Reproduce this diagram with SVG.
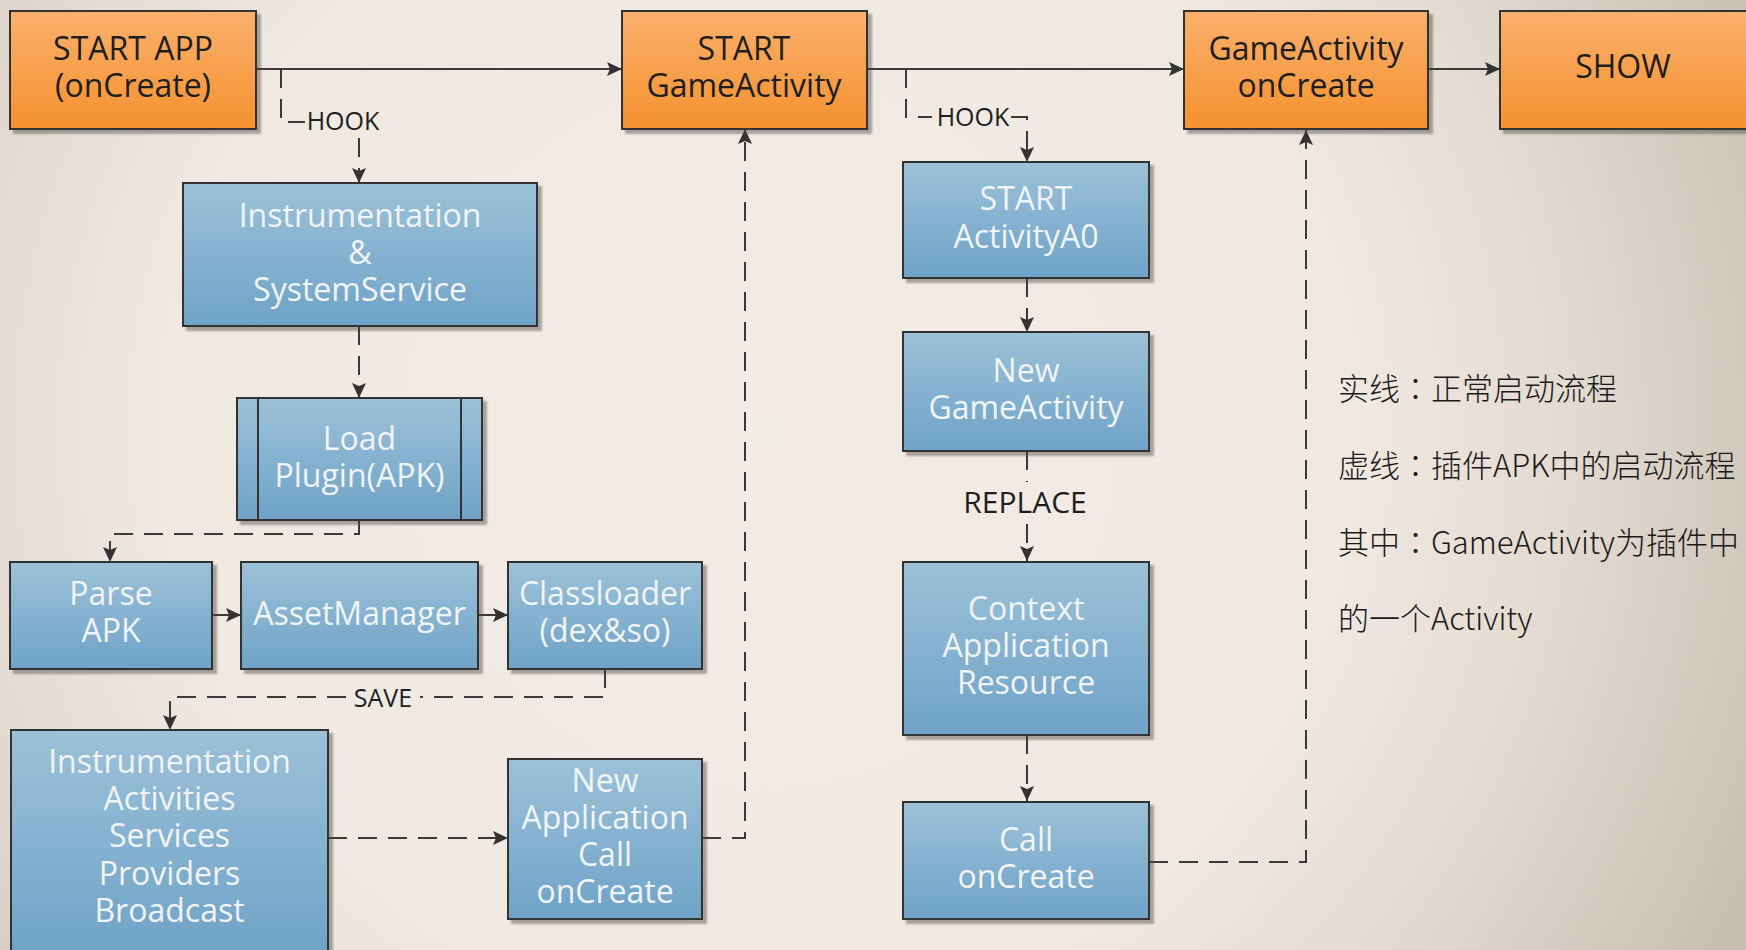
<svg xmlns="http://www.w3.org/2000/svg" width="1746" height="950" viewBox="0 0 1746 950">
  <defs>
    <radialGradient id="bg" gradientUnits="userSpaceOnUse" cx="760" cy="430" r="1080">
      <stop offset="0" stop-color="#f2ece6"/>
      <stop offset="0.55" stop-color="#f0e9e2"/>
      <stop offset="0.75" stop-color="#e3dad1"/>
      <stop offset="1" stop-color="#c8bfb5"/>
    </radialGradient>
    <linearGradient id="gOrange" x1="0" y1="0" x2="0" y2="1">
      <stop offset="0" stop-color="#fbb06c"/>
      <stop offset="1" stop-color="#f5912f"/>
    </linearGradient>
    <linearGradient id="gBlue" x1="0" y1="0" x2="0" y2="1">
      <stop offset="0" stop-color="#9cc1d8"/>
      <stop offset="1" stop-color="#6fa3c7"/>
    </linearGradient>
    <filter id="shadow" x="-5%" y="-5%" width="115%" height="120%">
      <feDropShadow dx="4" dy="4" stdDeviation="1.2" flood-color="#4a4440" flood-opacity="0.45"/>
    </filter>
    <marker id="arrow" markerUnits="userSpaceOnUse" markerWidth="16" markerHeight="14" refX="15" refY="7" orient="auto">
      <path d="M0,0 L15,7 L0,14 L3,7 z" fill="#333"/>
    </marker>
    <style>
      .box { stroke: #333; stroke-width: 2; }
      .o { fill: url(#gOrange); }
      .b { fill: url(#gBlue); }
      .sub { stroke: #333; stroke-width: 2; fill: none; }
      .ot { font-family: "Open Sans", "Noto Sans", sans-serif; font-size: 32px; fill: #1e1e1e; text-anchor: middle; }
      .bt { font-family: "Open Sans", "Noto Sans", sans-serif; font-size: 32px; fill: #f1f4f6; text-anchor: middle; }
      .lbl { font-family: "Open Sans", "Noto Sans", sans-serif; font-size: 25px; fill: #1e1e1e; text-anchor: middle; }
      .solid { stroke: #3a3a3a; stroke-width: 2; fill: none; }
      .dash { stroke: #3a3a3a; stroke-width: 2; fill: none; stroke-dasharray: 19 11; }
      .legend { font-family: "Noto Sans CJK SC", "Noto Sans", sans-serif; font-size: 31px; font-weight: 300; fill: #1a1a1a; }
      .colon { font-family: "Noto Sans CJK TC", "Noto Sans CJK SC", sans-serif; }
    </style>
  </defs>

  <!-- backdrop -->
  <rect x="0" y="0" width="1746" height="950" fill="url(#bg)"/>

  <!-- connectors -->
  <g id="connectors">
    <!-- normal launch flow (solid) -->
    <path class="solid" d="M256,69 H622" marker-end="url(#arrow)"/>
    <path class="solid" d="M867,69 H1184" marker-end="url(#arrow)"/>
    <path class="solid" d="M1428,69 H1500" marker-end="url(#arrow)"/>
    <path class="solid" d="M212,615 H241" marker-end="url(#arrow)"/>
    <path class="solid" d="M478,615 H508" marker-end="url(#arrow)"/>

    <!-- hook into instrumentation -->
    <path class="dash" d="M281,69 V122 H305"/>
    <text class="lbl" x="343" y="130">HOOK</text>
    <path class="dash" d="M359,138 V183" stroke-dasharray="2 10 19 11" marker-end="url(#arrow)"/>

    <path class="dash" d="M359,326 V398" marker-end="url(#arrow)"/>
    <path class="dash" d="M359,520 V534 H110 V562" marker-end="url(#arrow)"/>

    <!-- save -->
    <path class="dash" d="M605,669 V697 H420"/>
    <text class="lbl" x="383" y="707">SAVE</text>
    <path class="dash" d="M346,697 H170 V730" marker-end="url(#arrow)"/>

    <path class="dash" d="M328,838 H508" marker-end="url(#arrow)"/>
    <path class="dash" d="M702,838 H745 V129" marker-end="url(#arrow)"/>

    <!-- hook into activity start -->
    <path class="dash" d="M906,69 V117 H932"/>
    <text class="lbl" x="973" y="126">HOOK</text>
    <path class="dash" d="M1011,117 H1027 V162" stroke-dasharray="12 11 19 11" marker-end="url(#arrow)"/>

    <path class="dash" d="M1027,278 V332" marker-end="url(#arrow)"/>

    <!-- replace -->
    <path class="dash" d="M1027,451 V482"/>
    <text class="lbl" x="1025" y="513" style="font-size:30px">REPLACE</text>
    <path class="dash" d="M1027,524 V561" stroke-dasharray="6 8 40 0" marker-end="url(#arrow)"/>

    <path class="dash" d="M1027,735 V801" marker-end="url(#arrow)"/>
    <path class="dash" d="M1149,862 H1306 V130" marker-end="url(#arrow)"/>
  </g>

  <!-- top row: normal launch -->
  <g id="start-app">
    <rect class="box o" x="10" y="11" width="246" height="118" filter="url(#shadow)"/>
    <text class="ot" x="133" y="60">START APP</text>
    <text class="ot" x="133" y="97">(onCreate)</text>
  </g>
  <g id="start-game-activity">
    <rect class="box o" x="622" y="11" width="245" height="118" filter="url(#shadow)"/>
    <text class="ot" x="744" y="60">START</text>
    <text class="ot" x="744" y="97">GameActivity</text>
  </g>
  <g id="game-activity-oncreate">
    <rect class="box o" x="1184" y="11" width="244" height="118" filter="url(#shadow)"/>
    <text class="ot" x="1306" y="60">GameActivity</text>
    <text class="ot" x="1306" y="97">onCreate</text>
  </g>
  <g id="show">
    <rect class="box o" x="1500" y="11" width="250" height="118" filter="url(#shadow)"/>
    <text class="ot" x="1623" y="78">SHOW</text>
  </g>

  <!-- plugin loading -->
  <g id="instrumentation-systemservice">
    <rect class="box b" x="183" y="183" width="354" height="143" filter="url(#shadow)"/>
    <text class="bt" x="360" y="227">Instrumentation</text>
    <text class="bt" x="360" y="264">&amp;</text>
    <text class="bt" x="360" y="301">SystemService</text>
  </g>
  <g id="load-plugin">
    <rect class="box b" x="237" y="398" width="245" height="122" filter="url(#shadow)"/>
    <path class="sub" d="M258,398 V520 M461,398 V520"/>
    <text class="bt" x="359.5" y="450">Load</text>
    <text class="bt" x="359.5" y="487">Plugin(APK)</text>
  </g>
  <g id="parse-apk">
    <rect class="box b" x="10" y="562" width="202" height="107" filter="url(#shadow)"/>
    <text class="bt" x="111" y="605">Parse</text>
    <text class="bt" x="111" y="642">APK</text>
  </g>
  <g id="asset-manager">
    <rect class="box b" x="241" y="562" width="237" height="107" filter="url(#shadow)"/>
    <text class="bt" x="359.5" y="625">AssetManager</text>
  </g>
  <g id="classloader">
    <rect class="box b" x="508" y="562" width="194" height="107" filter="url(#shadow)"/>
    <text class="bt" x="605" y="605">Classloader</text>
    <text class="bt" x="605" y="642">(dex&amp;so)</text>
  </g>
  <g id="components">
    <rect class="box b" x="11" y="730" width="317" height="224" filter="url(#shadow)"/>
    <text class="bt" x="169.5" y="773">Instrumentation</text>
    <text class="bt" x="169.5" y="810">Activities</text>
    <text class="bt" x="169.5" y="847">Services</text>
    <text class="bt" x="169.5" y="885">Providers</text>
    <text class="bt" x="169.5" y="922">Broadcast</text>
  </g>
  <g id="new-application">
    <rect class="box b" x="508" y="759" width="194" height="160" filter="url(#shadow)"/>
    <text class="bt" x="605" y="792">New</text>
    <text class="bt" x="605" y="829">Application</text>
    <text class="bt" x="605" y="866">Call</text>
    <text class="bt" x="605" y="903">onCreate</text>
  </g>

  <!-- activity hooking -->
  <g id="start-activity-a0">
    <rect class="box b" x="903" y="162" width="246" height="116" filter="url(#shadow)"/>
    <text class="bt" x="1026" y="210">START</text>
    <text class="bt" x="1026" y="248">ActivityA0</text>
  </g>
  <g id="new-game-activity">
    <rect class="box b" x="903" y="332" width="246" height="119" filter="url(#shadow)"/>
    <text class="bt" x="1026" y="382">New</text>
    <text class="bt" x="1026" y="419">GameActivity</text>
  </g>
  <g id="context">
    <rect class="box b" x="903" y="562" width="246" height="173" filter="url(#shadow)"/>
    <text class="bt" x="1026" y="620">Context</text>
    <text class="bt" x="1026" y="657">Application</text>
    <text class="bt" x="1026" y="694">Resource</text>
  </g>
  <g id="call-oncreate">
    <rect class="box b" x="903" y="802" width="246" height="117" filter="url(#shadow)"/>
    <text class="bt" x="1026" y="851">Call</text>
    <text class="bt" x="1026" y="888">onCreate</text>
  </g>

  <!-- legend -->
  <g id="legend">
    <text class="legend" x="1338" y="400">实线<tspan class="colon">：</tspan>正常启动流程</text>
    <text class="legend" x="1338" y="477">虚线<tspan class="colon">：</tspan>插件APK中的启动流程</text>
    <text class="legend" x="1338" y="554">其中<tspan class="colon">：</tspan>GameActivity为插件中</text>
    <text class="legend" x="1338" y="630">的一个Activity</text>
  </g>
</svg>
